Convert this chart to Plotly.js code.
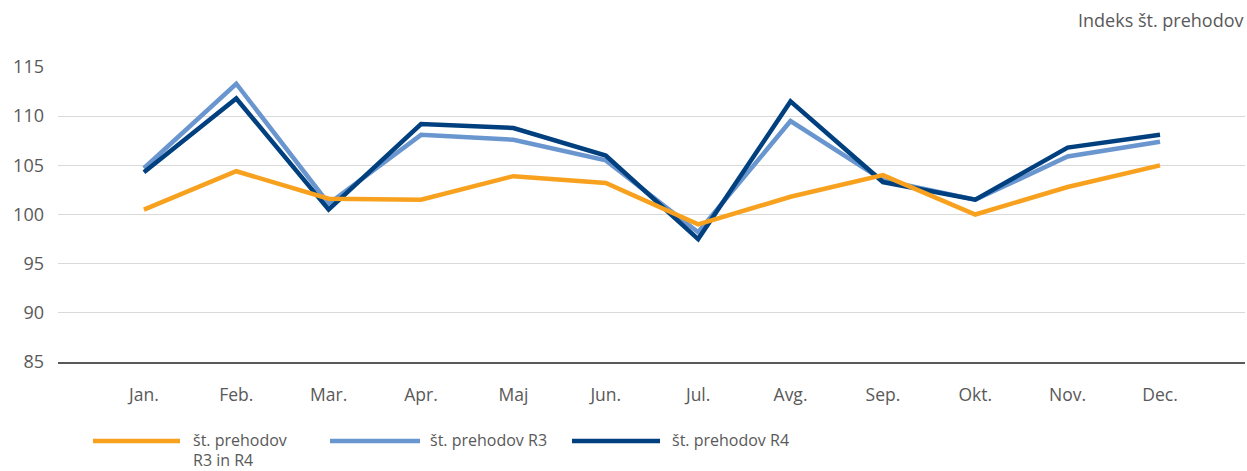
<!DOCTYPE html>
<html>
<head>
<meta charset="utf-8">
<script src="https://cdn.plot.ly/plotly-3.0.1.min.js"></script>
<style>html,body{margin:0;padding:0;background:#fff;}#chart{width:1247px;height:471px;}</style>
</head>
<body>
<div id="chart"></div>
<script>
var months = ["Jan.", "Feb.", "Mar.", "Apr.", "Maj", "Jun.", "Jul.", "Avg.", "Sep.", "Okt.", "Nov.", "Dec."];
var seriesR3R4 = [100.5, 104.4, 101.6, 101.5, 103.9, 103.2, 99.0, 101.8, 104.0, 100.0, 102.8, 105.0];
var seriesR3 = [104.7, 113.3, 101.1, 108.1, 107.6, 105.5, 98.2, 109.5, 103.5, 101.5, 105.9, 107.4];
var seriesR4 = [104.3, 111.8, 100.5, 109.2, 108.8, 106.0, 97.5, 111.5, 103.3, 101.5, 106.8, 108.1];
var names = ["št. prehodov R3 in R4", "št. prehodov R3", "št. prehodov R4"];
var legendLines = [["št. prehodov", "R3 in R4"], ["št. prehodov R3"], ["št. prehodov R4"]];
var colors = ["#F7A11E", "#6A96CF", "#00407F"];
var yTicks = [85, 90, 95, 100, 105, 110, 115];
var yTitle = "Indeks št. prehodov";

var W = 1247, H = 471, L = 58, R = 2, T = 67, B = 109;
var pw = W - L - R, ph = H - T - B;
function px(x){ return (x - L) / pw; }
function py(y){ return (H - B - y) / ph; }

var font = "Open Sans, sans-serif";
var grey = "#595959";

var traces = [
  {x: months, y: seriesR3, name: names[1], type: "scatter", mode: "lines", line: {color: colors[1], width: 4.5}},
  {x: months, y: seriesR4, name: names[2], type: "scatter", mode: "lines", line: {color: colors[2], width: 4.5}},
  {x: months, y: seriesR3R4, name: names[0], type: "scatter", mode: "lines", line: {color: colors[0], width: 4.5}}
];

// custom legend (swatch + label), order as in reference
var legendItems = [
  {lines: legendLines[0], color: colors[0], x0: 93, x1: 180, tx: 192},
  {lines: legendLines[1], color: colors[1], x0: 330, x1: 420, tx: 429},
  {lines: legendLines[2], color: colors[2], x0: 572, x1: 660, tx: 671}
];
var shapes = [], annotations = [];
legendItems.forEach(function(it){
  shapes.push({type: "line", xref: "paper", yref: "paper", x0: px(it.x0), x1: px(it.x1), y0: py(441), y1: py(441),
    line: {color: it.color, width: 4.5}});
  it.lines.forEach(function(t, i){
    annotations.push({xref: "paper", yref: "paper", x: px(it.tx), y: py(440 + i * 20), xanchor: "left", yanchor: "middle",
      align: "left", showarrow: false, borderpad: 0, text: t, font: {family: font, size: 16, color: grey}});
  });
});
annotations.push({xref: "paper", yref: "paper", x: px(1245), y: py(20), xanchor: "right", yanchor: "middle",
  showarrow: false, text: yTitle, font: {family: font, size: 18, color: grey}});

var layout = {
  width: W, height: H,
  margin: {l: L, r: R, t: T, b: B, pad: 0},
  paper_bgcolor: "#fff", plot_bgcolor: "#fff",
  showlegend: false,
  font: {family: font, color: grey},
  xaxis: {
    type: "category", categoryorder: "array", categoryarray: months,
    range: [-0.93, 11.92], showgrid: false, zeroline: false,
    showline: true, linecolor: "#595959", linewidth: 1.5,
    ticks: "", ticklabelstandoff: 16,
    tickfont: {family: font, size: 17.5, color: grey}, fixedrange: true
  },
  yaxis: {
    range: [85, 115], tickvals: yTicks, ticktext: yTicks.map(String),
    showgrid: true, gridcolor: "#D9D9D9", gridwidth: 1, zeroline: false, showline: false,
    ticks: "", ticklabelstandoff: 13,
    tickfont: {family: font, size: 18, color: grey}, fixedrange: true
  },
  shapes: shapes,
  annotations: annotations
};

Plotly.newPlot("chart", traces, layout, {displayModeBar: false, staticPlot: true});
</script>
</body>
</html>
